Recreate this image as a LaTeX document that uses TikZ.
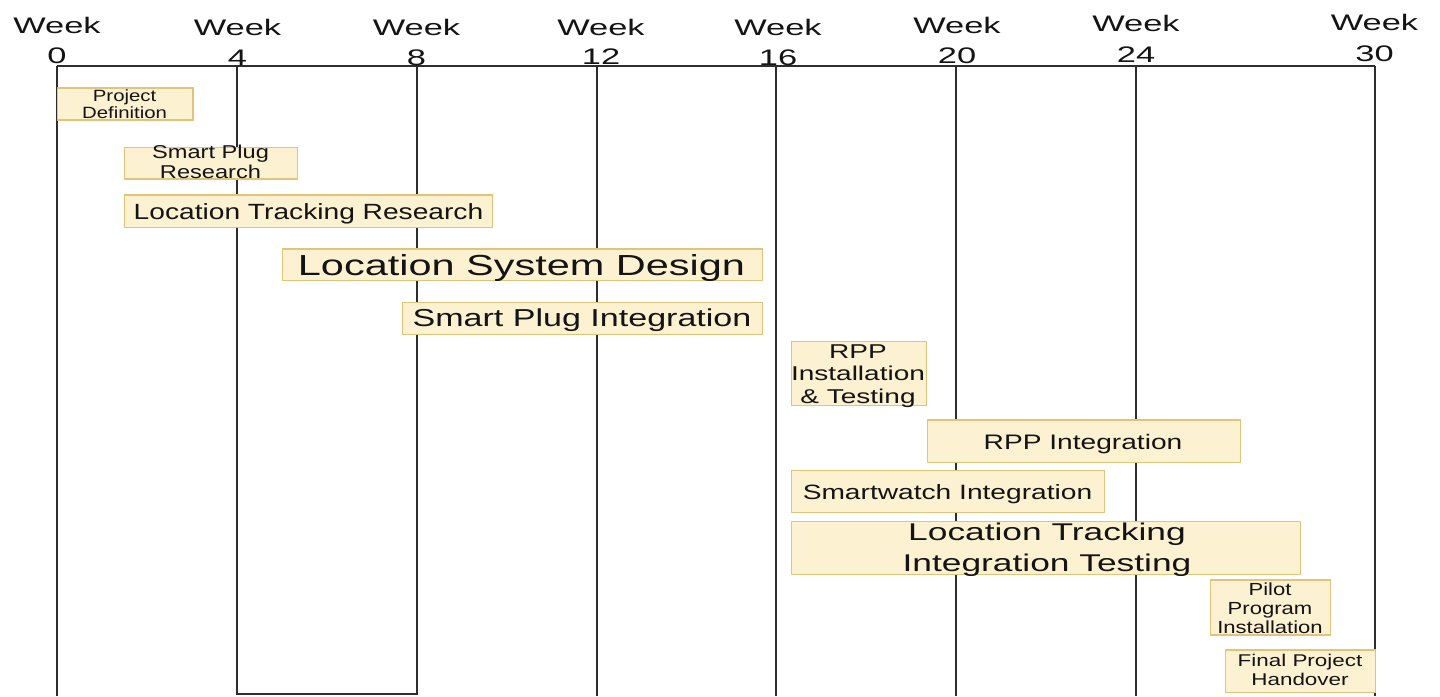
\documentclass[tikz,border=0pt]{standalone}
\usepackage{fontspec}
\usepackage{graphicx}
\setmainfont{Liberation Sans}
\definecolor{barfill}{RGB}{252,241,209}
\definecolor{baredge}{RGB}{224,196,122}
\definecolor{gridline}{RGB}{45,45,45}
% size, line skip, horizontal stretch, lines
\newcommand{\ganttlabel}[4]{\fontsize{#1}{#2}\selectfont\scalebox{#3}[1]{\begin{tabular}[t]{@{}c@{}}#4\end{tabular}}}

\begin{document}
\begin{tikzpicture}[x=1pt,y=-1pt,
  bar/.style={draw=baredge, fill=barfill, line width=1.3pt, inner sep=0pt, anchor=north west},
  lbl/.style={inner sep=0pt, anchor=base, text=black!92},
  gridrule/.style={draw=gridline, line width=2pt},
  ]
\useasboundingbox (0,0) rectangle (1440,696);

% week grid
\draw[gridrule] (57,66) -- (1375,66);
\foreach \gx in {57,597,776,956,1136,1375}
  \draw[gridrule] (\gx,66) -- (\gx,696);
\draw[gridrule, line width=2.4pt] (237,66) -- (237,694) -- (417,694) -- (417,66);

% week headings
\node[lbl] (w0)  at (57,33.5)   {\ganttlabel{22.5}{30}{1.53}{Week\\0}};
\node[lbl] (w4)  at (237.5,35)  {\ganttlabel{22.5}{30}{1.53}{Week\\4}};
\node[lbl] (w8)  at (416.5,35)  {\ganttlabel{22.5}{30}{1.53}{Week\\8}};
\node[lbl] (w12) at (601,35)    {\ganttlabel{22.5}{29.5}{1.53}{Week\\12}};
\node[lbl] (w16) at (778,35)    {\ganttlabel{22.5}{30}{1.53}{Week\\16}};
\node[lbl] (w20) at (957,33)    {\ganttlabel{22.5}{30}{1.53}{Week\\20}};
\node[lbl] (w24) at (1136,31)   {\ganttlabel{22.5}{31}{1.53}{Week\\24}};
\node[lbl] (w30) at (1374.5,30.5) {\ganttlabel{22.5}{31.5}{1.53}{Week\\30}};

% task bars
\node[bar, minimum width=135.3, minimum height=32]   (pd)    at (57,87.3)    {};
\node[bar, minimum width=172.7, minimum height=31.6] (spr)   at (124,146.7)  {};
\node[bar, minimum width=367.7, minimum height=32.4] (ltr)   at (124,194.3)  {};
\node[bar, minimum width=480,   minimum height=31.7] (lsd)   at (281.7,248.3){};
\node[bar, minimum width=360,   minimum height=32.3] (spi)   at (401.7,301.7){};
\node[bar, minimum width=135,   minimum height=64]   (rppi)  at (790.7,341)  {};
\node[bar, minimum width=313.3, minimum height=42.7] (rppn)  at (926.7,419.3){};
\node[bar, minimum width=313.3, minimum height=42]   (sw)    at (790.7,470)  {};
\node[bar, minimum width=509.3, minimum height=53.3] (ltit)  at (790.7,520.7){};
\node[bar, minimum width=120,   minimum height=55]   (pilot) at (1210,579.3) {};
\node[bar, minimum width=150,   minimum height=42.4] (final) at (1225,649.3) {};

% task names
\node[lbl] (pdt)    at (124.6,101.7) {\ganttlabel{16.3}{16.7}{1.25}{Project\\Definition}};
\node[lbl] (sprt)   at (210.5,158.3) {\ganttlabel{18.6}{20}{1.27}{Smart Plug\\Research}};
\node[lbl] (ltrt)   at (308.5,219)   {\ganttlabel{22}{24}{1.28}{Location Tracking Research}};
\node[lbl] (lsdt)   at (521.5,275.7) {\ganttlabel{29}{32}{1.43}{Location System Design}};
\node[lbl] (spit)   at (582,326.7)   {\ganttlabel{24.5}{28}{1.39}{Smart Plug Integration}};
\node[lbl] (rppit)  at (858,358.3)   {\ganttlabel{20}{22.5}{1.40}{RPP\\Installation\\\& Testing}};
\node[lbl] (rppnt)  at (1083,449)    {\ganttlabel{21}{24}{1.34}{RPP Integration}};
\node[lbl] (swt)    at (947.5,499.3) {\ganttlabel{20.7}{24}{1.36}{Smartwatch Integration}};
\node[lbl] (ltitt)  at (1047,540.7)  {\ganttlabel{24.2}{31}{1.46}{Location Tracking\\Integration Testing}};
\node[lbl] (pilott) at (1270,595)    {\ganttlabel{17.5}{19}{1.26}{Pilot\\Program\\Installation}};
\node[lbl] (finalt) at (1300,666.7)  {\ganttlabel{17}{19}{1.32}{Final Project\\Handover}};
\end{tikzpicture}
\end{document}
